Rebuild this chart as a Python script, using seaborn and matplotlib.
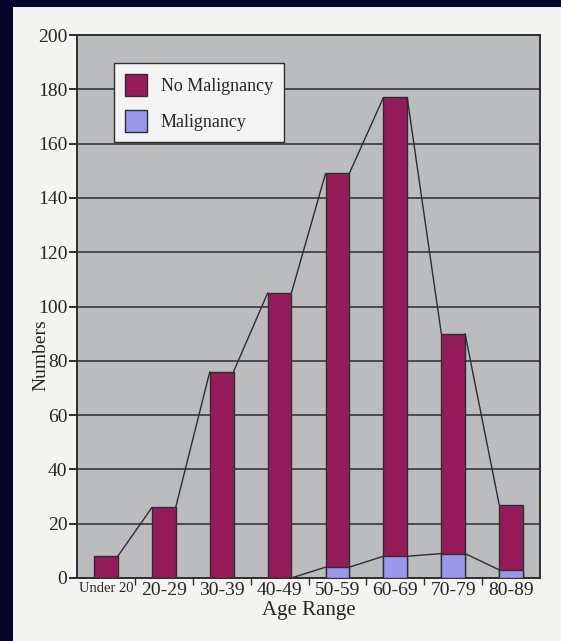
"""Stacked column chart: malignancy by age range (scanned figure recreation)."""
import matplotlib

matplotlib.use("Agg")
import matplotlib.pyplot as plt
from matplotlib.patches import Patch, Rectangle
import seaborn as sns

ages = ["Under 20", "20-29", "30-39", "40-49", "50-59", "60-69", "70-79", "80-89"]
no_malignancy = [8, 26, 76, 105, 145, 169, 81, 24]
malignancy = [0, 0, 0, 0, 4, 8, 9, 3]
totals = [a + b for a, b in zip(no_malignancy, malignancy)]

MAROON = "#951a59"
LAVENDER = "#9a98ea"
DARK = "#2e2e2e"

sns.set_style("white")
plt.rcParams["font.family"] = ["Liberation Serif", "DejaVu Serif"]

fig = plt.figure(figsize=(5.61, 6.41), dpi=100)
fig.patch.set_facecolor("#05052a")
fig.patches.append(Rectangle((13 / 561, 0), 1, 634 / 641, transform=fig.transFigure,
                             facecolor="#f3f3f1", edgecolor="none", zorder=-5))

ax = fig.add_axes([77 / 561, 1 - 578 / 641, 463 / 561, 543 / 641])
ax.set_zorder(2)
ax.set_facecolor("#bbbcbe")

bar_w = 0.41
sns.barplot(x=ages, y=totals, color=MAROON, saturation=1, width=bar_w,
            edgecolor=DARK, linewidth=1, ax=ax, zorder=3)
sns.barplot(x=ages, y=malignancy, color=LAVENDER, saturation=1, width=bar_w,
            edgecolor=DARK, linewidth=1, ax=ax, zorder=4)

# series lines joining the tops of neighbouring columns
for series in (totals, malignancy):
    for i in range(len(ages) - 1):
        ax.plot([i + bar_w / 2, i + 1 - bar_w / 2], [series[i], series[i + 1]],
                color=DARK, lw=1, zorder=5)

ax.set_xlim(-0.5, len(ages) - 0.5)
ax.set_ylim(0, 200)
ax.set_yticks(range(0, 201, 20))
ax.yaxis.grid(True, color="#4a4a4a", lw=1.4, zorder=1)
ax.set_axisbelow(True)
for s in ax.spines.values():
    s.set_color(DARK)
    s.set_linewidth(1.4)

ax.tick_params(axis="y", direction="out", length=6, width=1.4, color=DARK,
               labelsize=14, pad=1, left=True)
ax.set_xticks(range(len(ages)))
ax.set_xticklabels(ages, fontsize=14)
ax.get_xticklabels()[0].set_fontsize(10.5)
ax.tick_params(axis="x", which="major", length=0, pad=3)
ax.set_xticks([i + 0.5 for i in range(len(ages) - 1)], minor=True)
ax.tick_params(axis="x", which="minor", direction="out", length=5, width=1, color=DARK,
               bottom=True)

ax.set_xlabel("Age Range", fontsize=15, labelpad=1)
ax.set_ylabel("Numbers", fontsize=14)
ax.yaxis.set_label_coords(-0.06, 0.41)

handles = [Patch(facecolor=MAROON, edgecolor=DARK, label="No Malignancy"),
           Patch(facecolor=LAVENDER, edgecolor=DARK, label="Malignancy")]
leg = ax.legend(handles=handles, loc="upper left", bbox_to_anchor=(0.08, 0.948),
                borderaxespad=0, fontsize=13, frameon=True, fancybox=False,
                framealpha=1, handlelength=1.2, handleheight=1.5, labelspacing=0.75,
                borderpad=0.6, handletextpad=0.8)
leg.get_frame().set_facecolor("#f4f4f4")
leg.get_frame().set_edgecolor(DARK)
leg.get_frame().set_linewidth(1)
leg.set_zorder(10)

fig.savefig("out.png", dpi=100)
